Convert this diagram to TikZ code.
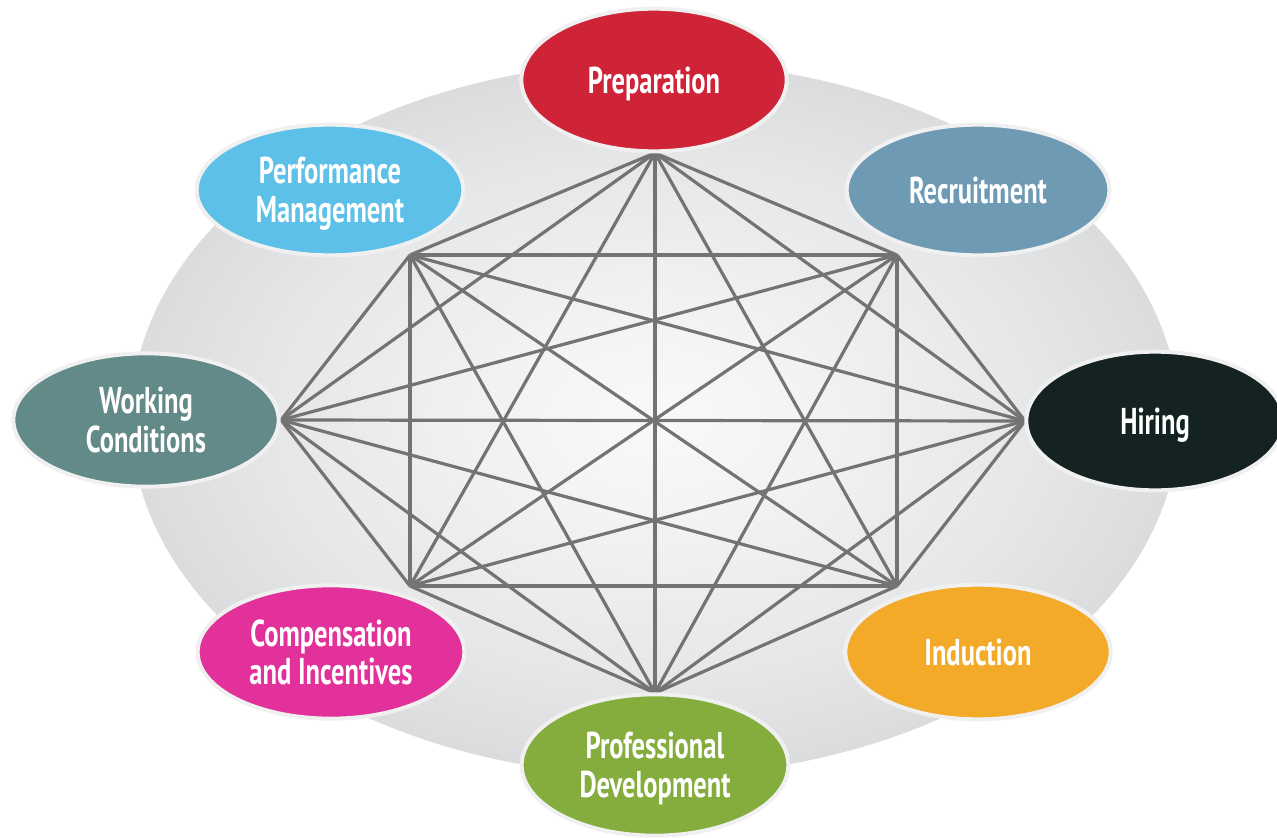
\documentclass[tikz,border=0pt]{standalone}
\usepackage{fontspec}
\newfontfamily\lblfont[FakeStretch=0.71]{PT Sans}
\usetikzlibrary{shapes.geometric}
\definecolor{bg0}{RGB}{249,249,249}
\definecolor{bg1}{RGB}{244,244,245}
\definecolor{bg2}{RGB}{230,231,232}
\definecolor{bg3}{RGB}{214,215,217}
\definecolor{bg4}{RGB}{199,200,203}
\definecolor{bubedge}{RGB}{240,240,240}
\definecolor{linkgray}{RGB}{115,115,117}
\definecolor{cprep}{RGB}{207,36,56}
\definecolor{crec}{RGB}{110,154,180}
\definecolor{chir}{RGB}{20,35,34}
\definecolor{cind}{RGB}{242,170,40}
\definecolor{cdev}{RGB}{132,173,61}
\definecolor{ccomp}{RGB}{226,49,154}
\definecolor{cwork}{RGB}{98,138,136}
\definecolor{cperf}{RGB}{92,192,232}
\pgfdeclareradialshading{bgshade}{\pgfpoint{0bp}{0bp}}{color(0bp)=(bg0); color(6bp)=(bg1); color(18bp)=(bg2); color(28bp)=(bg3); color(35bp)=(bg4); color(50bp)=(bg4)}
\begin{document}
\begin{tikzpicture}[x=0.75pt,y=-0.75pt,
  bub/.style={ellipse, draw=bubedge, line width=3pt, inner sep=0pt, text=white,
    text depth=0pt,
    font=\lblfont\bfseries\fontsize{28}{29}\selectfont, align=center},
  link/.style={draw=linkgray, line width=2.4pt}]
\clip (0,0) rectangle (1277,838);
\useasboundingbox (0,0) rectangle (1277,838);
\shade[shading=bgshade] (655,419) ellipse [x radius=524, y radius=357];
% hub points
\coordinate (vP) at (655,153);
\coordinate (vR) at (897,255);
\coordinate (vH) at (1025,421);
\coordinate (vI) at (897,586);
\coordinate (vD) at (655,693);
\coordinate (vC) at (410,586);
\coordinate (vW) at (281,420);
\coordinate (vM) at (410,255);
\foreach \a/\b in {vP/vR,vP/vH,vP/vI,vP/vD,vP/vC,vP/vW,vP/vM,
  vR/vH,vR/vI,vR/vD,vR/vC,vR/vW,vR/vM,
  vH/vI,vH/vD,vH/vC,vH/vW,vH/vM,
  vI/vD,vI/vC,vI/vW,vI/vM,
  vD/vC,vD/vW,vD/vM,
  vC/vW,vC/vM,
  vW/vM}
  \draw[link] (\a) -- (\b);
% bubbles
\node[bub, fill=cprep, minimum width=199pt, minimum height=107pt] (prep) at (654,80) {Preparation};
\node[bub, fill=crec, minimum width=197pt, minimum height=98pt] (rec) at (978,190) {Recruitment};
\node[bub, fill=chir, minimum width=193pt, minimum height=104pt] (hir) at (1155,421) {Hiring};
\node[bub, fill=cind, minimum width=199pt, minimum height=101pt] (ind) at (978,652) {Induction};
\node[bub, fill=cdev, minimum width=200pt, minimum height=106pt] (dev) at (655,765) {Professional\\Development};
\node[bub, fill=ccomp, minimum width=200pt, minimum height=100pt] (comp) at (331,652) {Compensation\\and Incentives};
\node[bub, fill=cwork, minimum width=199pt, minimum height=100pt] (work) at (146,420) {Working\\Conditions};
\node[bub, fill=cperf, minimum width=200pt, minimum height=98pt] (perf) at (330,190) {Performance\\Management};
\end{tikzpicture}
\end{document}
